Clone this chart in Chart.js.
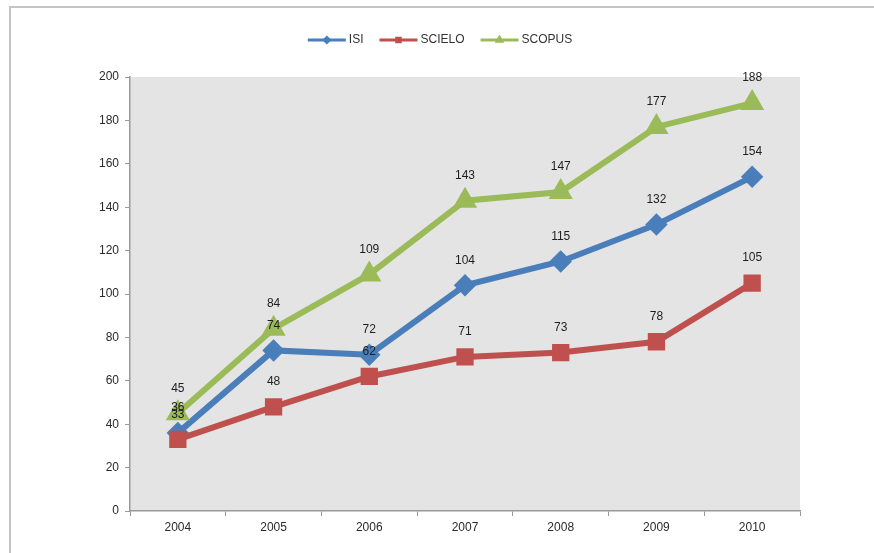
<!DOCTYPE html>
<html lang="en">
<head>
  <meta charset="UTF-8" />
  <title>ISI / SCIELO / SCOPUS</title>
  <script src="https://cdn.jsdelivr.net/npm/chart.js"></script>
  <style>
    html, body { margin: 0; padding: 0; background: #fff; }
    #wrap { position: relative; width: 874px; height: 553px; overflow: hidden; }
    #frame { position: absolute; left: 9px; top: 6px; right: -4px; bottom: -4px; border: 2px solid #c4c4c4; }
    canvas { position: absolute; left: 0; top: 0; }
  </style>
</head>
<body>
  <div id="wrap">
    <div id="frame"></div>
    <canvas id="chart" width="874" height="553"></canvas>
  </div>

  <script>
    const years = ["2004", "2005", "2006", "2007", "2008", "2009", "2010"];
    const isi = [36, 74, 72, 104, 115, 132, 154];
    const scielo = [33, 48, 62, 71, 73, 78, 105];
    const scopus = [45, 84, 109, 143, 147, 177, 188];

    const font = "Liberation Sans, Arial, sans-serif";

    // grey plot background
    const plotBg = {
      id: "plotBg",
      beforeDraw(chart) {
        const { ctx, chartArea: a } = chart;
        ctx.save();
        ctx.fillStyle = "#e4e4e4";
        ctx.fillRect(a.left, a.top, a.right - a.left, a.bottom - a.top);
        ctx.restore();
      }
    };

    // value labels above every point
    const valueLabels = {
      id: "valueLabels",
      afterDatasetsDraw(chart) {
        const ctx = chart.ctx;
        ctx.save();
        ctx.font = "12px " + font;
        ctx.fillStyle = "#1e1e1e";
        ctx.textAlign = "center";
        ctx.textBaseline = "middle";
        chart.data.datasets.forEach((ds, i) => {
          chart.getDatasetMeta(i).data.forEach((pt, j) => {
            ctx.fillText(String(ds.data[j]), pt.x, pt.y - 25);
          });
        });
        ctx.restore();
      }
    };

    // legend: short line with marker, then the name
    const lineLegend = {
      id: "lineLegend",
      afterDraw(chart) {
        const ctx = chart.ctx;
        ctx.save();
        ctx.font = "12px " + font;
        ctx.textBaseline = "middle";
        const lineW = 38, gap = 3, space = 16;
        const items = chart.data.datasets.map(ds => ({ ds, w: lineW + gap + ctx.measureText(ds.label).width }));
        const total = items.reduce((s, it) => s + it.w, 0) + space * (items.length - 1);
        let x = 440 - total / 2;
        const y = 40;
        items.forEach(({ ds }) => {
          ctx.strokeStyle = ds.borderColor;
          ctx.lineWidth = 3;
          ctx.beginPath();
          ctx.moveTo(x, y);
          ctx.lineTo(x + lineW, y);
          ctx.stroke();
          ctx.fillStyle = ds.borderColor;
          Chart.helpers.drawPoint(ctx, { pointStyle: ds.pointStyle, radius: 2.5, borderWidth: 1, rotation: 0 }, x + lineW / 2, y);
          ctx.fillStyle = "#333";
          ctx.fillText(ds.label, x + lineW + gap, y);
          x += lineW + gap + ctx.measureText(ds.label).width + space;
        });
        ctx.restore();
      }
    };

    function series(label, data, color, style, r, order) {
      return {
        label, data, order,
        borderColor: color,
        backgroundColor: color,
        pointBackgroundColor: color,
        pointBorderColor: color,
        pointStyle: style,
        pointRadius: r,
        borderWidth: 6,
        tension: 0
      };
    }

    new Chart(document.getElementById("chart"), {
      type: "line",
      data: {
        labels: years,
        datasets: [
          series("ISI", isi, "#4a7ebb", "rectRot", 7, 2),
          series("SCIELO", scielo, "#c0504d", "rect", 8, 1),
          series("SCOPUS", scopus, "#9bbb59", "triangle", 8, 0)
        ]
      },
      options: {
        responsive: false,
        animation: false,
        layout: { padding: { left: 10, right: 74, top: 77, bottom: 12 } },
        plugins: { legend: { display: false }, tooltip: { enabled: false } },
        scales: {
          x: {
            offset: true,
            afterFit(s) { s.height = 30; },
            grid: { offset: true, drawOnChartArea: false, tickLength: 5, color: "#999" },
            border: { color: "#999", width: 1.5 },
            ticks: { color: "#2a2a2a", font: { family: font, size: 12 }, padding: 4 }
          },
          y: {
            min: 0, max: 200,
            afterFit(s) { s.width = 120; },
            grid: { drawOnChartArea: false, tickLength: 5, color: "#999" },
            border: { color: "#999", width: 1.5 },
            ticks: { stepSize: 20, color: "#2a2a2a", font: { family: font, size: 12 }, padding: 6 }
          }
        }
      },
      plugins: [plotBg, valueLabels, lineLegend]
    });
  </script>
</body>
</html>
